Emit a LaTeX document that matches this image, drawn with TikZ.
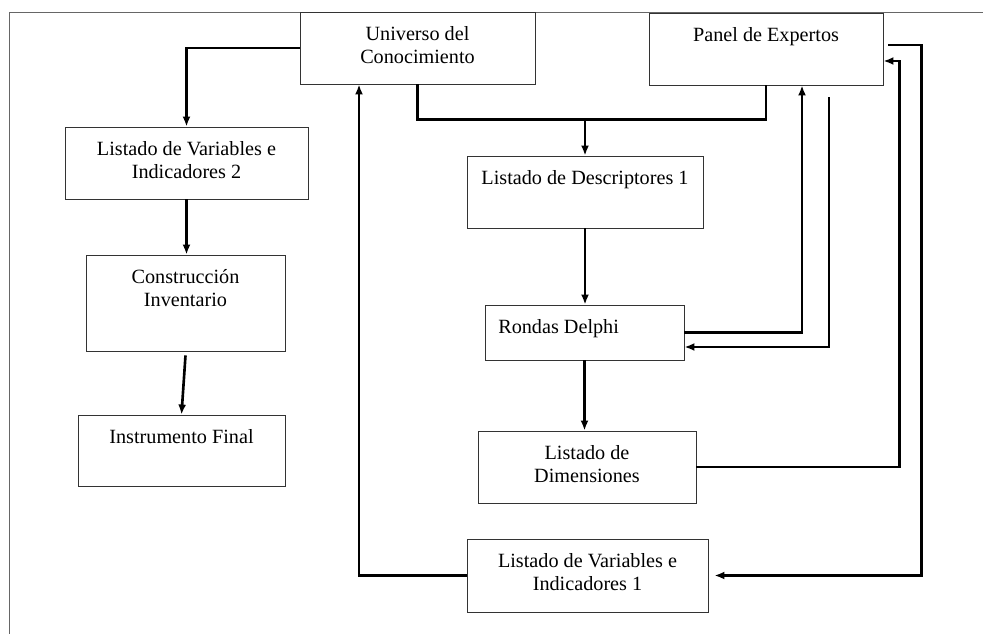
\documentclass[tikz,border=0pt]{standalone}
\usepackage{fontspec}
\setmainfont{Liberation Serif}
\usetikzlibrary{arrows.meta}

\begin{document}
\begin{tikzpicture}[
    caja/.style={draw=black!80, line width=0.5pt, inner sep=0pt},
    texto/.style={anchor=north, yshift=-4.8pt, align=center, font=\fontsize{11.5}{13.1}\selectfont},
    flecha/.style={line width=1.5pt, -{Latex[length=2mm, width=1.6mm]}},
    linea/.style={line width=1.5pt},
    marco/.style={draw=black!60, line width=0.4pt}
]
    \useasboundingbox (0,0) rectangle (19.66,-12.68);

    % Marco
    \draw[marco] (0.18,-12.68) -- (0.18,-0.24) -- (19.66,-0.24);

    % Cajas
    \node[caja, minimum width=4.70cm, minimum height=1.44cm,
          label={[texto]north:{Universo del\\Conocimiento}}] (universo) at (8.35,-0.96) {};
    \node[caja, minimum width=4.68cm, minimum height=1.44cm,
          label={[texto]north:{Panel de Expertos}}] (panel) at (15.32,-0.98) {};
    \node[caja, minimum width=4.86cm, minimum height=1.44cm,
          label={[texto]north:{Listado de Variables e\\Indicadores 2}}] (variables2) at (3.73,-3.26) {};
    \node[caja, minimum width=3.98cm, minimum height=1.92cm,
          label={[texto]north:{Construcción\\Inventario}}] (inventario) at (3.71,-6.06) {};
    \node[caja, minimum width=4.14cm, minimum height=1.42cm,
          label={[texto]north:{Instrumento Final}}] (instrumento) at (3.63,-9.01) {};
    \node[caja, minimum width=4.72cm, minimum height=1.44cm,
          label={[texto]north:{Listado de Descriptores 1}}] (descriptores) at (11.70,-3.84) {};
    \node[caja, minimum width=3.98cm, minimum height=1.10cm,
          label={[texto, anchor=north west, xshift=0.15cm]north west:{Rondas Delphi}}] (delphi) at (11.69,-6.65) {};
    \node[caja, minimum width=4.36cm, minimum height=1.44cm,
          label={[texto]north:{Listado de\\Dimensiones}}] (dimensiones) at (11.74,-9.34) {};
    \node[caja, minimum width=4.82cm, minimum height=1.46cm,
          label={[texto]north:{Listado de Variables e\\Indicadores 1}}] (variables1) at (11.75,-11.51) {};

    % Rama izquierda
    \draw[flecha] (universo.west) -| (variables2.north);
    \draw[flecha] (variables2.south) -- (variables2.south |- inventario.north);
    \draw[flecha] ([yshift=-0.08cm]inventario.south) -- (instrumento.north);

    % Universo y panel hacia descriptores
    \draw[linea] (universo.south) -- ++(0,-0.7) coordinate (cruce) -| (panel.south);
    \draw[flecha] (cruce -| descriptores.north) -- (descriptores.north);
    \draw[flecha] (descriptores.south) -- (descriptores.south |- delphi.north);
    \draw[flecha] (delphi.south) -- (delphi.south |- dimensiones.north);

    % Rondas con el panel
    \draw[flecha] (delphi.east) -| ([xshift=0.72cm]panel.south);
    \coordinate (retorno) at ([xshift=1.26cm, yshift=-0.24cm]panel.south);
    \draw[flecha] (retorno) |- ([yshift=-0.29cm]delphi.east);

    % Dimensiones al panel, panel a variables 1
    \draw[flecha] (dimensiones.east) -| ([xshift=0.32cm, yshift=-0.24cm]panel.east) -- ([yshift=-0.24cm]panel.east);
    \draw[flecha, shorten <=0.1cm, shorten >=0.12cm] ([yshift=0.08cm]panel.east) -- ++(0.76,0) |- (variables1.east);

    % Vuelta al universo
    \draw[flecha] (variables1.west) -| ([xshift=-1.17cm]universo.south);
\end{tikzpicture}
\end{document}
